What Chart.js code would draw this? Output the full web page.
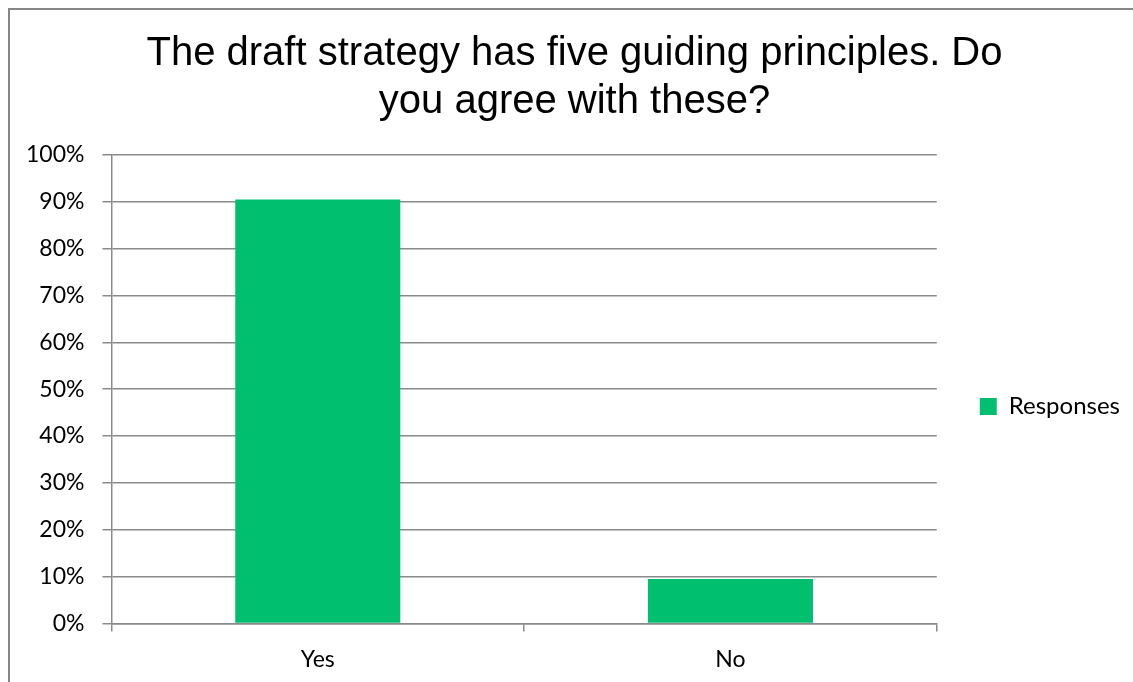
<!DOCTYPE html>
<html>
<head>
<meta charset="utf-8">
<script src="https://cdn.jsdelivr.net/npm/chart.js@4"></script>
<style>
  html, body { margin: 0; padding: 0; overflow: hidden; background: #fff; }
  #frame {
    position: absolute; left: 8px; top: 8px;
    width: 1300px; height: 900px;
    border: 2px solid #868686; pointer-events: none;
  }
  #wrap { position: absolute; left: 8px; top: 8px; width: 1133px; height: 689px; }
</style>
</head>
<body>
<div id="wrap"><canvas id="bar-chart" width="1133" height="689"></canvas></div>
<div id="frame"></div>
<script>
var label_values = ["Yes", "No"];
var response_data = [90.5, 9.5];
var y_ticks = [0, 10, 20, 30, 40, 50, 60, 70, 80, 90, 100];
var barColors = "#00BF6F";
var gridColor = "#8a8a8a";

// move the right-hand legend so it sits beside the middle of the bars
var legendOffset = {
  id: "legendOffset",
  afterLayout: function (chart) {
    var lg = chart.legend;
    if (!lg) return;
    lg.top += 48;
    lg.bottom += 48;
    lg.left -= 11;
    lg.right -= 11;
  }
};

new Chart("bar-chart", {
  type: "bar",
  data: {
    labels: label_values,
    datasets: [{
      label: "Responses",
      backgroundColor: barColors,
      data: response_data,
      categoryPercentage: 0.8,
      barPercentage: 0.5
    }]
  },
  options: {
    responsive: false,
    animation: false,
    layout: {
      padding: { left: 0, right: 0, top: 22, bottom: 10 }
    },
    plugins: {
      title: {
        display: true,
        text: ["The draft strategy has five guiding principles. Do", "you agree with these?"],
        color: "#000",
        font: { family: "Liberation Sans", size: 40, weight: "normal", lineHeight: 1.2 },
        padding: { top: 0, bottom: 29 }
      },
      legend: {
        display: true,
        position: "right",
        labels: {
          color: "#000",
          font: { family: "Lato", size: 24 },
          boxWidth: 17,
          boxHeight: 17,
          padding: 54
        }
      },
      tooltip: { enabled: false }
    },
    scales: {
      x: {
        grid: {
          offset: true,
          drawOnChartArea: false,
          drawTicks: true,
          tickLength: 8,
          color: gridColor,
          lineWidth: 1.5
        },
        border: { display: true, color: gridColor, width: 1.5 },
        ticks: {
          color: "#000",
          font: { family: "Lato", size: 23 },
          padding: 14
        }
      },
      y: {
        min: 0,
        max: 100,
        afterBuildTicks: function (axis) {
          axis.ticks = y_ticks.map(function (v) { return { value: v }; });
        },
        grid: {
          color: gridColor,
          lineWidth: 1.5,
          drawTicks: true,
          tickLength: 9
        },
        border: { display: true, color: gridColor, width: 1.5 },
        ticks: {
          color: "#000",
          font: { family: "Lato", size: 23 },
          padding: 18,
          callback: function (v) { return v + "%"; }
        }
      }
    }
  },
  plugins: [legendOffset]
});
</script>
</body>
</html>
